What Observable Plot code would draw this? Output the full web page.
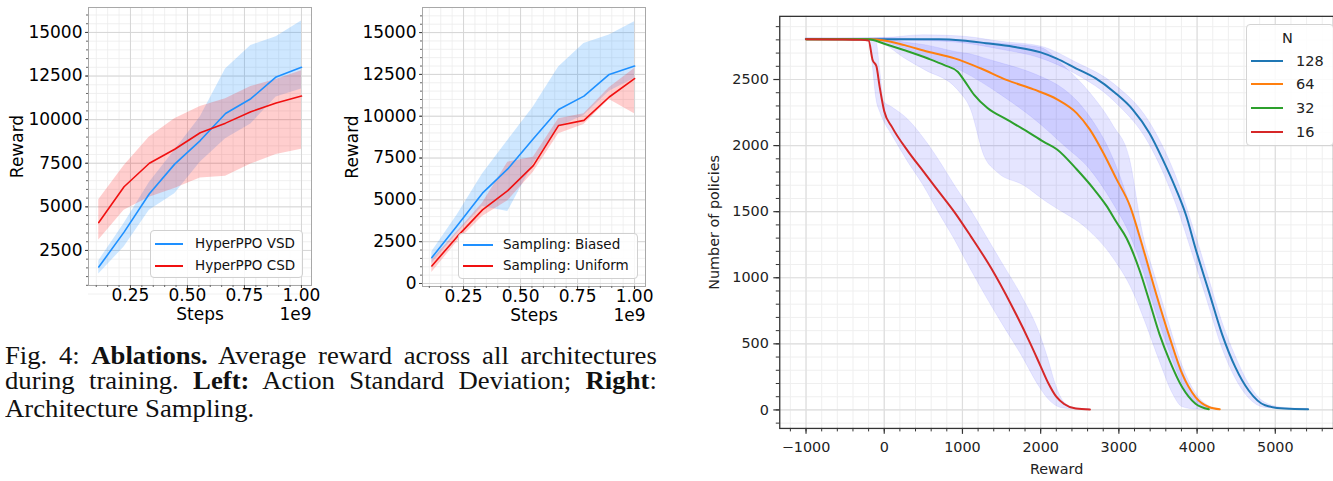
<!DOCTYPE html>
<html><head><meta charset="utf-8">
<script src="https://cdn.jsdelivr.net/npm/d3@7"></script>
<script src="https://cdn.jsdelivr.net/npm/@observablehq/plot@0.6"></script>
<style>
html,body{margin:0;padding:0;background:#fff;overflow:hidden;width:1333px;height:481px}
#root{position:relative;width:1333px;height:481px;overflow:hidden;background:#fff}
.cap{position:absolute;left:5px;width:598px;font-family:"Liberation Serif","Times New Roman",serif;font-size:24.5px;line-height:27px;color:#111;transform:scaleX(1.09);transform-origin:0 0;white-space:nowrap}
.just{text-align:justify;text-align-last:justify;white-space:normal}
.leg{position:absolute;background:rgba(255,255,255,0.85);border:1px solid #d0d0d0;border-radius:3px;box-sizing:border-box}
.lt{position:absolute;font-family:"DejaVu Sans",sans-serif;white-space:nowrap;line-height:1;transform:translateY(-50%)}
.ll{position:absolute;height:2px;transform:translateY(-50%)}
</style></head>
<body><div id="root"></div>
<script>
// ---------- Data: left panel (Action Standard Deviation) ----------
const steps = [0.111, 0.222, 0.333, 0.444, 0.556, 0.667, 0.778, 0.889, 1.0];
const vsdMean = [1550, 3550, 5750, 7450, 8800, 10350, 11200, 12450, 13000];
const vsdLow  = [1150, 2700, 4800, 5750, 7550, 8900, 9750, 11300, 11750];
const vsdHigh = [1900, 4050, 6400, 8250, 10150, 12900, 14250, 14750, 15650];
const csdMean = [4100, 6150, 7500, 8300, 9250, 9800, 10450, 10950, 11350];
const csdLow  = [3100, 4800, 5550, 6050, 6650, 6750, 7450, 8000, 8300];
const csdHigh = [5400, 7350, 9000, 10050, 10750, 11200, 11900, 12300, 12800];

// ---------- Data: middle panel (Architecture Sampling) ----------
const biasedMean  = [1550, 3450, 5400, 6850, 8650, 10400, 11200, 12500, 13000];
const biasedLow   = [1200, 3000, 4600, 4300, 7150, 9350, 10050, 11500, 12250];
const biasedHigh  = [1900, 4100, 6550, 8550, 10550, 12950, 14350, 14850, 15650];
const uniformMean = [1050, 2800, 4400, 5550, 7050, 9450, 9750, 11150, 12250];
const uniformLow  = [650, 2500, 4000, 4950, 6650, 8950, 9500, 11000, 10150];
const uniformHigh = [1400, 3100, 4800, 7250, 7550, 9850, 10150, 11700, 12850];

const stepTicks = [0.25, 0.5, 0.75, 1.0];
const rewardTicksLeft = [2500, 5000, 7500, 10000, 12500, 15000];
const rewardTicksMid = [0, 2500, 5000, 7500, 10000, 12500, 15000];
const leftLegend = ["HyperPPO VSD", "HyperPPO CSD"];
const midLegend = ["Sampling: Biased", "Sampling: Uniform"];

// ---------- Data: right panel (Number of policies vs Reward), [reward, count] ----------
const nLabels = ["128", "64", "32", "16"];
const nColors = ["#1f77b4", "#ff7f0e", "#2ca02c", "#d62728"];
const n128Line = [[-1000,2805],[0,2805],[700,2805],[1000,2796],[1300,2775],[1650,2748],[2000,2705],[2200,2660],[2450,2585],[2700,2510],[2950,2400],[3180,2271],[3390,2096],[3560,1896],[3730,1671],[3860,1471],[3980,1222],[4150,897],[4320,572],[4490,322],[4660,147],[4870,35],[5120,10],[5420,5]];
const n64Line = [[-1000,2805],[-200,2805],[0,2796],[260,2760],[560,2710],[900,2660],[1230,2585],[1570,2495],[1910,2425],[2210,2350],[2460,2246],[2630,2121],[2800,1946],[2970,1746],[3140,1546],[3310,1222],[3480,872],[3650,547],[3810,272],[3980,97],[4150,22],[4290,5]];
const n32Line = [[-1000,2805],[-200,2805],[0,2771],[260,2721],[560,2659],[770,2609],[940,2559],[1020,2496],[1150,2384],[1320,2284],[1570,2196],[1820,2109],[2035,2030],[2210,1971],[2460,1821],[2680,1671],[2840,1546],[2970,1420],[3100,1297],[3270,1047],[3390,822],[3520,572],[3650,372],[3810,172],[3980,47],[4150,5]];
const n16Line = [[-1000,2805],[-600,2803],[-300,2800],[-200,2795],[-150,2650],[-100,2600],[-60,2450],[0,2260],[100,2140],[300,1960],[500,1805],[700,1650],[900,1495],[1100,1320],[1370,1070],[1620,800],[1870,500],[2000,330],[2100,200],[2200,100],[2300,45],[2450,10],[2630,3]];
// bands: [reward, low, high]
const n128Band = [[-1000,2800,2810],[0,2797,2815],[500,2792,2835],[1000,2775,2825],[1500,2725,2785],[2000,2660,2750],[2450,2540,2630],[2950,2330,2460],[3390,2010,2180],[3730,1560,1770],[3980,1110,1330],[4150,790,1000],[4320,470,670],[4490,240,410],[4660,90,200],[4870,15,55],[5120,5,15],[5420,3,8]];
const n64Band = [[-1000,2800,2810],[-200,2800,2810],[0,2780,2815],[500,2680,2800],[1000,2560,2790],[1500,2380,2770],[2000,2160,2740],[2300,2000,2600],[2630,1820,2400],[2930,1560,2150],[3140,1330,1900],[3310,1060,1330],[3480,730,980],[3650,440,640],[3810,200,340],[3980,50,130],[4150,8,30],[4290,2,6]];
const n32Band = [[-1000,2800,2810],[-200,2800,2810],[0,2765,2808],[260,2660,2780],[520,2571,2760],[940,2421,2705],[1110,2271,2690],[1280,1921,2660],[1450,1796,2630],[1790,1696,2570],[2080,1571,2500],[2210,1522,2460],[2590,1372,2250],[2930,1147,1900],[3180,897,1480],[3350,647,1120],[3520,372,800],[3690,122,480],[3810,22,300],[3980,3,90],[4150,1,10]];
const n16Band = [[-1000,2800,2810],[-200,2790,2805],[-150,2620,2805],[-100,2350,2790],[-50,2250,2560],[0,2180,2330],[100,2080,2290],[300,1880,2200],[500,1700,2060],[700,1490,1890],[900,1290,1700],[1100,1070,1520],[1300,860,1320],[1500,660,1120],[1750,420,870],[2000,160,560],[2100,80,380],[2200,30,180],[2300,10,60],[2450,3,12],[2630,2,5]];
const rewardTicks = [-1000, 0, 1000, 2000, 3000, 4000, 5000];
const policyTicks = [0, 500, 1000, 1500, 2000, 2500];

// ---------- helpers ----------
const root = document.getElementById("root");
function place(el, left, top) {
  const d = document.createElement("div");
  d.style.cssText = `position:absolute;left:${left}px;top:${top}px;`;
  d.appendChild(el); root.appendChild(d); return d;
}
function range(a, b, s) { const r = []; for (let v = a; v <= b + 1e-9; v += s) r.push(+v.toFixed(6)); return r; }
function html(tag, cls, css, text) {
  const e = document.createElement(tag); if (cls) e.className = cls; e.style.cssText = css; if (text != null) e.textContent = text; root.appendChild(e); return e;
}
const fmt2 = d3.format(".2f");

function smallChart(opts) {
  const s1 = steps.map((x, i) => ({x, m: opts.m1[i], lo: opts.lo1[i], hi: opts.hi1[i]}));
  const s2 = steps.map((x, i) => ({x, m: opts.m2[i], lo: opts.lo2[i], hi: opts.hi2[i]}));
  const xMinor = range(0.1, 1.0, 0.05);
  const yMinor = range(0, 16000, 500);
  return Plot.plot({
    width: 330, height: 330,
    marginLeft: opts.ml, marginRight: 330 - opts.ml - 223, marginTop: 7, marginBottom: opts.mb,
    x: {domain: opts.xd}, y: {domain: opts.yd},
    style: {fontFamily: "DejaVu Sans, sans-serif", fontSize: "17px", color: "#000", background: "transparent", overflow: "visible"},
    marks: [
      Plot.ruleX(xMinor, {stroke: "#ececec", strokeWidth: 0.8}),
      Plot.ruleY(yMinor, {stroke: "#ececec", strokeWidth: 0.8}),
      Plot.ruleX(stepTicks, {stroke: "#d6d6d6", strokeWidth: 1}),
      Plot.ruleY(opts.yTicks, {stroke: "#d6d6d6", strokeWidth: 1}),
      Plot.areaY(s1, {x: "x", y1: "lo", y2: "hi", fill: "#1e90ff", fillOpacity: 0.22}),
      Plot.areaY(s2, {x: "x", y1: "lo", y2: "hi", fill: "#ff2020", fillOpacity: 0.22}),
      Plot.lineY(s1, {x: "x", y: "m", stroke: "#1e90ff", strokeWidth: 1.6}),
      Plot.lineY(s2, {x: "x", y: "m", stroke: "#f01010", strokeWidth: 1.6}),
      Plot.frame({stroke: "#a8a8a8", strokeWidth: 1}),
      Plot.axisY(yMinor.filter(v => v >= opts.yd[0] && v <= opts.yd[1]), {tickSize: 2, tickFormat: () => "", label: null, stroke: "#666"}),
      Plot.axisX(xMinor, {tickSize: 2, tickFormat: () => "", label: null, stroke: "#666"}),
      Plot.axisY(opts.yTicks, {tickSize: 3, tickPadding: 3, tickFormat: d => String(d), label: null, stroke: "#444"}),
      Plot.axisX(stepTicks, {tickSize: 3, tickPadding: 0, tickFormat: fmt2, label: null, stroke: "#444"}),
      Plot.text(["Reward"], {text: d => d, frameAnchor: "left", dx: opts.ylabDx, rotate: -90, fontSize: 17, textAnchor: "middle", lineAnchor: "middle"}),
      Plot.text(["Steps"], {text: d => d, frameAnchor: "bottom", dy: 29, fontSize: 17, lineAnchor: "middle"}),
      Plot.text(["1e9"], {text: d => d, frameAnchor: "bottom-right", textAnchor: "end", dy: 29, fontSize: 17, lineAnchor: "middle"})
    ]
  });
}

// ---------- left chart ----------
place(smallChart({m1: vsdMean, lo1: vsdLow, hi1: vsdHigh, m2: csdMean, lo2: csdLow, hi2: csdHigh,
  xd: [0.066, 1.044], yd: [490, 16430], yTicks: rewardTicksLeft, ml: 88, mb: 45, ylabDx: -71}), 0, 0);
// ---------- middle chart ----------
place(smallChart({m1: biasedMean, lo1: biasedLow, hi1: biasedHigh, m2: uniformMean, lo2: uniformLow, hi2: uniformHigh,
  xd: [0.07, 1.048], yd: [-180, 16500], yTicks: rewardTicksMid, ml: 92, mb: 44, ylabDx: -70}), 330, 0);

function smallLegend(left, top, w, h, lx0, lx1, tx, rows, labels) {
  html("div", "leg", `left:${left}px;top:${top}px;width:${w}px;height:${h}px;border-radius:4px;`);
  const cols = ["#1e90ff", "#f01010"];
  labels.forEach((t, i) => {
    html("div", "ll", `left:${lx0}px;top:${rows[i]}px;width:${lx1 - lx0}px;background:${cols[i]};`);
    html("div", "lt", `left:${tx}px;top:${rows[i]}px;font-size:13.5px;color:#111;`, t);
  });
}
smallLegend(150, 230, 153, 48, 155, 183, 195, [244, 266], leftLegend);
smallLegend(458, 233, 180, 46, 463, 493, 503, [245, 266], midLegend);

// ---------- right chart ----------
const xMinor3 = range(-1200, 5600, 200);
const yMinor3 = range(-100, 2900, 100);
const lines = [n128Line, n64Line, n32Line, n16Line];
const bands = [n128Band, n64Band, n32Band, n16Band];
const minusFmt = d => d < 0 ? "\u2212" + Math.abs(d) : String(d);
const right = Plot.plot({
  width: 639, height: 481,
  marginLeft: 80, marginRight: 0, marginTop: 16, marginBottom: 49,
  x: {domain: [-1336, 5744]}, y: {domain: [-140, 2978]},
  style: {fontFamily: "DejaVu Sans, sans-serif", fontSize: "14.5px", color: "#222", background: "transparent", overflow: "visible"},
  marks: [
    Plot.ruleX(xMinor3, {stroke: "#efefef", strokeWidth: 1}),
    Plot.ruleY(yMinor3, {stroke: "#efefef", strokeWidth: 1}),
    Plot.ruleX(rewardTicks, {stroke: "#dedede", strokeWidth: 1.2}),
    Plot.ruleY(policyTicks, {stroke: "#dedede", strokeWidth: 1.2}),
    ...bands.map(b => Plot.areaY(b, {x: d => d[0], y1: d => d[1], y2: d => d[2], curve: "monotone-x",
      fill: "#0000ff", fillOpacity: 0.1, stroke: "#0000ff", strokeOpacity: 0.07, strokeWidth: 1})),
    ...lines.map((l, i) => Plot.line(l, {x: d => d[0], y: d => d[1], curve: "monotone-x", stroke: nColors[i], strokeWidth: 2})),
    Plot.frame({stroke: "#333", strokeWidth: 1.3}),
    Plot.axisX(xMinor3.filter(v => v > -1336), {tickSize: 3.5, tickFormat: () => "", label: null, stroke: "#333"}),
    Plot.axisY(yMinor3, {tickSize: 3.5, tickFormat: () => "", label: null, stroke: "#333"}),
    Plot.axisX(rewardTicks, {tickSize: 6, tickPadding: 7, tickFormat: minusFmt, label: null, stroke: "#333", strokeWidth: 1.2}),
    Plot.axisY(policyTicks, {tickSize: 6, tickPadding: 5, tickFormat: d => String(d), label: null, stroke: "#333", strokeWidth: 1.2}),
    Plot.text(["Number of policies"], {text: d => d, frameAnchor: "left", dx: -66, rotate: -90, fontSize: 14.5, fill: "#222", textAnchor: "middle", lineAnchor: "middle"}),
    Plot.text(["Reward"], {text: d => d, frameAnchor: "bottom", dy: 41, fontSize: 14.5, fill: "#222", lineAnchor: "middle"})
  ]
});
place(right, 700, 0);

// right legend
html("div", "leg", "left:1246px;top:24px;width:88px;height:122px;border-radius:4px;border-color:#d4d4d4;");
html("div", "lt", "left:1282px;top:38px;font-size:14.5px;color:#222;", "N");
const legRows = [60.5, 84, 107.5, 131.5];
nLabels.forEach((t, i) => {
  html("div", "ll", `left:1251px;top:${legRows[i]}px;width:32px;background:${nColors[i]};`);
  html("div", "lt", `left:1296px;top:${legRows[i]}px;font-size:14.5px;color:#222;`, t);
});

// ---------- caption ----------
const c1 = html("div", "cap just", "top:341.5px;");
c1.innerHTML = "Fig. 4: <b>Ablations.</b> Average reward across all architectures";
const c2 = html("div", "cap just", "top:366.5px;");
c2.innerHTML = "during training. <b>Left:</b> Action Standard Deviation; <b>Right</b>:";
const c3 = html("div", "cap", "top:394.5px;");
c3.innerHTML = "Architecture Sampling.";
</script>
</body></html>
